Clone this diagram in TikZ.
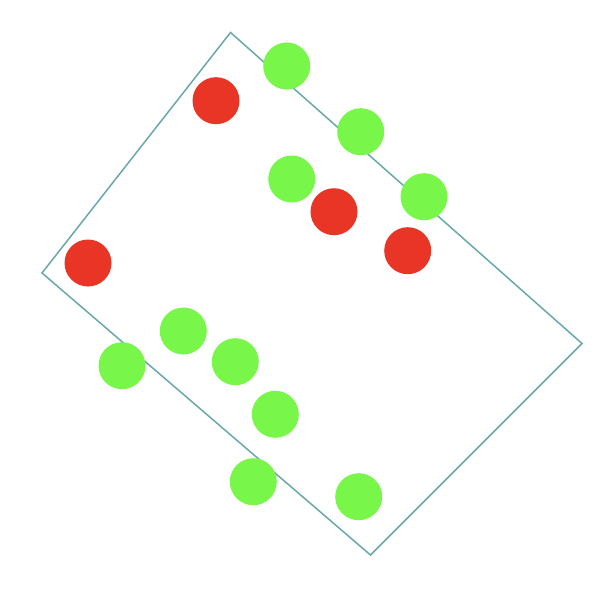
\documentclass[tikz,border=0pt]{standalone}
\usepackage{tikz}

\definecolor{boxline}{RGB}{104,168,170}
\definecolor{dotred}{RGB}{232,53,38}
\definecolor{dotgreen}{RGB}{120,246,74}

\begin{document}
\begin{tikzpicture}[x=1pt,y=-1pt,
  dot/.style={circle,inner sep=0pt,minimum size=47pt},
  red dot/.style={dot,fill=dotred},
  green dot/.style={dot,fill=dotgreen}]
  \useasboundingbox (0,0) rectangle (604,604);

  \coordinate (top)    at (230.5,32.5);
  \coordinate (right)  at (582,343.5);
  \coordinate (bottom) at (370.5,555);
  \coordinate (left)   at (42,273);

  \draw[boxline, line width=1.5pt] (top) -- (right) -- (bottom) -- (left) -- cycle;

  \node[green dot] (g1)  at (286.7,66)    {};
  \node[green dot] (g2)  at (360.7,131.7) {};
  \node[green dot] (g3)  at (291.7,179)   {};
  \node[green dot] (g4)  at (424,196.7)   {};
  \node[green dot] (g5)  at (183.3,331)   {};
  \node[green dot] (g6)  at (122,365.7)   {};
  \node[green dot] (g7)  at (235.3,361.7) {};
  \node[green dot] (g8)  at (275.3,414.3) {};
  \node[green dot] (g9)  at (253.3,481.7) {};
  \node[green dot] (g10) at (358.7,496.7) {};

  \node[red dot]   (r1)  at (216,100.7)   {};
  \node[red dot]   (r2)  at (334,211.7)   {};
  \node[red dot]   (r3)  at (407.7,250.7) {};
  \node[red dot]   (r4)  at (88,263)      {};
\end{tikzpicture}
\end{document}
